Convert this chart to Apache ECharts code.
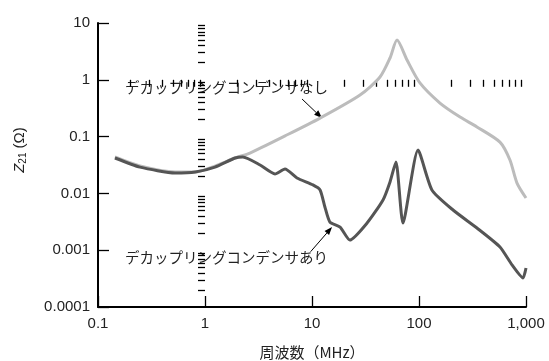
<!DOCTYPE html>
<html><head><meta charset="utf-8">
<script src="https://cdn.jsdelivr.net/npm/echarts@6/dist/echarts.min.js"></script>
<style>html,body{margin:0;padding:0;background:#fff}#c{width:549px;height:361px}</style>
</head><body><div id="c"></div>
<script>
// Data
const freqNashi = [0.144,0.247,0.525,0.81,1.24,1.91,2.63,5.6,11.9,28.1,43.2,53.6,62.3,77.3,102,157,242,348,571,708,824,1000];
const zNashi    = [0.0438,0.0303,0.0238,0.0238,0.0303,0.042,0.0514,0.103,0.212,0.54,1.12,2.42,5.0,2.23,0.88,0.39,0.221,0.148,0.080,0.0387,0.0152,0.0083];
const freqAri = [0.144,0.247,0.525,0.81,1.24,1.91,2.26,3.27,4.51,5.59,7.24,10.2,11.9,13.2,14.7,18.3,22.6,32.7,46.1,53.6,60.9,70.8,97.9,132,208,348,571,740,937,1000];
const zAri    = [0.042,0.029,0.0229,0.0238,0.029,0.042,0.0438,0.0316,0.022,0.0269,0.0187,0.0141,0.0115,0.00577,0.00313,0.00256,0.00151,0.00301,0.00766,0.0159,0.0357,0.00301,0.058,0.0115,0.0051,0.00246,0.00114,0.00055,0.000324,0.000487];
const xTickLabels = ['0.1','1','10','100','1,000'];
const yTickLabels = ['0.0001','0.001','0.01','0.1','1','10'];
const xMajor = [0.1,1,10,100,1000];
const yMajor = [0.0001,0.001,0.01,0.1,1,10];
const labelNashi = 'デカップリングコンデンサなし';
const labelAri = 'デカップリングコンデンサあり';

const font = 'Liberation Sans, Arial, Helvetica, sans-serif';
const jp = 'Noto Sans CJK JP, sans-serif';
const lg = v=>Math.log10(v);
function fmt(arr, majors){ return function(v){ const l=Math.round(Math.log10(v)); const i=majors.findIndex(m=>Math.round(Math.log10(m))===l); return i>=0?arr[i]:''; }; }

const chart = echarts.init(document.getElementById('c'));
chart.setOption({
  animation:false,
  grid:{left:98,right:23,top:23,bottom:54,containLabel:false,outerBoundsMode:'none'},
  xAxis:[
    {type:'log',logBase:10,min:0.1,max:1000,interval:1,splitLine:{show:false},
      axisLine:{show:false},
      axisTick:{show:false},
      minorTick:{show:true,splitNumber:9,length:7,lineStyle:{color:'#000',width:1.3}},
      minorSplitLine:{show:false},
      axisLabel:{show:true,color:'#222',fontSize:15,fontFamily:font,margin:9,formatter:fmt(xTickLabels,xMajor)},
      name:'周波数（MHz）',nameLocation:'middle',nameGap:38,
      nameTextStyle:{color:'#222',fontSize:15,fontFamily:jp}},
    // decade-tick axis in log10 space (major ticks + axis line)
    {type:'value',min:lg(0.1),max:lg(1000),position:'bottom',splitLine:{show:false},
      axisLine:{show:true,onZero:false,lineStyle:{color:'#000',width:2}},
      axisTick:{show:true,inside:true,length:11,lineStyle:{color:'#000',width:1.3},customValues:xMajor.map(lg)},
      axisLabel:{show:false}}
  ],
  yAxis:[
    {type:'log',logBase:10,min:0.0001,max:10,interval:1,splitLine:{show:false},
      axisLine:{show:false},
      axisTick:{show:false},
      minorTick:{show:true,splitNumber:9,length:7,lineStyle:{color:'#000',width:1.3}},
      minorSplitLine:{show:false},
      axisLabel:{show:true,color:'#222',fontSize:15,fontFamily:font,margin:8,formatter:fmt(yTickLabels,yMajor)}},
    {type:'value',min:lg(0.0001),max:lg(10),position:'left',splitLine:{show:false},
      axisLine:{show:true,onZero:false,lineStyle:{color:'#000',width:2}},
      axisTick:{show:true,inside:true,length:11,lineStyle:{color:'#000',width:1.3},customValues:yMajor.map(lg)},
      axisLabel:{show:false}}
  ],
  series:[
    {type:'line',name:labelNashi,xAxisIndex:0,yAxisIndex:0,data:freqNashi.map((f,i)=>[f,zNashi[i]]),showSymbol:false,smooth:0.25,
     lineStyle:{color:'#bcbcbc',width:3},z:2},
    {type:'line',name:labelAri,xAxisIndex:0,yAxisIndex:0,data:freqAri.map((f,i)=>[f,zAri[i]]),showSymbol:false,smooth:0.2,
     lineStyle:{color:'#555',width:3},z:3}
  ]
});

// annotations anchored in data space
function px(p){ return chart.convertToPixel({xAxisIndex:0,yAxisIndex:0},p); }
const t1 = px([0.179,0.72]), a1s = px([8.07,0.459]), a1e = px([12.4,0.212]);
const t2 = px([0.179,0.00073]), a2s = px([9.7,0.00094]), a2e = px([15.4,0.00256]);
const o = px([xMajor[0], yMajor[0]]), xe = px([xMajor[xMajor.length-1], yMajor[0]]), ye = px([xMajor[0], yMajor[yMajor.length-1]]);
function arrow(s,e){
  const ang=Math.atan2(e[1]-s[1],e[0]-s[0]), L=8, W=3;
  const bx=e[0]-L*Math.cos(ang), by=e[1]-L*Math.sin(ang);
  return [
    {type:'line',shape:{x1:s[0],y1:s[1],x2:bx,y2:by},style:{stroke:'#000',lineWidth:1}},
    {type:'polygon',shape:{points:[[e[0],e[1]],[bx+W*Math.sin(ang),by-W*Math.cos(ang)],[bx-W*Math.sin(ang),by+W*Math.cos(ang)]]},style:{fill:'#000'}}
  ];
}
chart.setOption({graphic:[
  // axis lines along the plot's left and bottom edges (from the axis extents)
  {type:'line',z:10,shape:{x1:o[0],y1:o[1],x2:xe[0],y2:xe[1]},style:{stroke:'#000',lineWidth:2}},
  {type:'line',z:10,shape:{x1:o[0],y1:o[1],x2:ye[0],y2:ye[1]},style:{stroke:'#000',lineWidth:2}},
  {type:'text',x:t1[0],y:t1[1],style:{text:labelNashi,font:'14.5px '+jp,fill:'#222',textVerticalAlign:'middle'}},
  {type:'text',x:t2[0],y:t2[1],style:{text:labelAri,font:'14.5px '+jp,fill:'#222',textVerticalAlign:'middle'}},
  {type:'text',x:20,y:150,rotation:Math.PI/2,
   style:{text:'{i|Z}{s|21}{n| (Ω)}',align:'center',verticalAlign:'middle',
     rich:{i:{fontStyle:'italic',fontSize:15,fontFamily:font,fill:'#222'},
           s:{fontSize:10,fontFamily:font,fill:'#222',verticalAlign:'bottom',padding:[6,0,0,0]},
           n:{fontSize:15,fontFamily:font,fill:'#222'}}}},
  ...arrow(a1s,a1e), ...arrow(a2s,a2e)
]});
</script></body></html>
